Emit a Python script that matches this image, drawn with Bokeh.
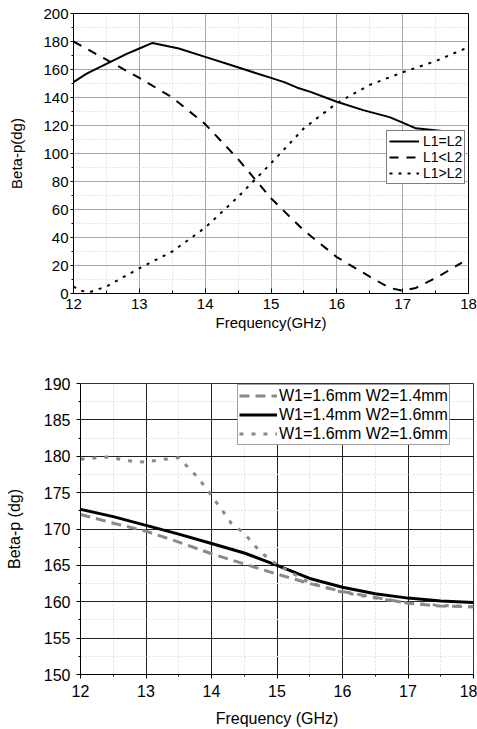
from bokeh.plotting import figure
from bokeh.models import FixedTicker, Legend, LegendItem, Range1d
from bokeh.embed import file_html
from bokeh.resources import INLINE

# ---------------- data: top chart ----------------
freq_eq = [12.0, 12.2, 12.5, 12.8, 13.0, 13.2, 13.6, 14.0, 14.4, 14.8, 15.0, 15.2, 15.4, 15.6, 16.0, 16.4, 16.8, 17.0, 17.2, 17.6, 17.8]
beta_eq = [151, 157, 164, 171, 175, 179, 175, 169, 163, 157, 154, 151, 147, 144, 137, 131, 126, 122, 118, 116, 114]

freq_lt = [12.0, 12.5, 13.0, 13.5, 14.0, 14.5, 15.0, 15.5, 16.0, 16.5, 16.8, 17.0, 17.2, 17.5, 17.9]
beta_lt = [180, 167, 154, 140, 121, 96, 68, 45, 26, 12, 4, 2, 4, 11, 22]

freq_gt = [12.0, 12.1, 12.25, 12.5, 13.0, 13.5, 14.0, 14.5, 15.0, 15.5, 16.0, 16.5, 17.0, 17.5, 18.0]
beta_gt = [5, 2, 1, 5, 18, 30, 47, 69, 93, 118, 136, 149, 158, 166, 176]

top_names = ["L1=L2", "L1<L2", "L1>L2"]
top_xticks = [12, 13, 14, 15, 16, 17, 18]
top_yticks = [0, 20, 40, 60, 80, 100, 120, 140, 160, 180, 200]

# ---------------- data: bottom chart ----------------
freq_w = [12.0, 12.5, 13.0, 13.5, 14.0, 14.5, 15.0, 15.5, 16.0, 16.5, 17.0, 17.5, 18.0]
beta_w1 = [172.0, 170.8, 169.7, 168.2, 166.6, 165.2, 163.8, 162.5, 161.4, 160.6, 159.8, 159.4, 159.3]
beta_w2 = [172.7, 171.7, 170.5, 169.3, 168.0, 166.7, 165.0, 163.2, 162.0, 161.1, 160.5, 160.1, 159.9]

freq_w3 = [12.0, 12.4, 12.8, 13.0, 13.2, 13.5, 13.8, 14.0, 14.2, 14.3, 14.5, 14.75, 15.0, 15.5, 16.0, 16.5, 17.0, 17.5, 18.0]
beta_w3 = [179.6, 179.9, 179.3, 179.2, 179.5, 179.8, 177.0, 174.6, 172.1, 170.8, 169.4, 166.8, 165.1, 162.6, 161.3, 160.5, 159.8, 159.5, 159.3]

bot_names = ["W1=1.6mm W2=1.4mm", "W1=1.4mm W2=1.6mm", "W1=1.6mm W2=1.6mm"]
bot_xticks = [12, 13, 14, 15, 16, 17, 18]
bot_yticks = [150, 155, 160, 165, 170, 175, 180, 185, 190]

FONT = "Liberation Sans"

# ================= top figure =================
p1 = figure(width=477, height=355, output_backend="svg", toolbar_location=None,
            x_range=Range1d(12, 18), y_range=Range1d(0, 200),
            min_border_left=73, min_border_right=9, min_border_top=13, min_border_bottom=62)
p1.background_fill_color = "white"
p1.outline_line_color = "black"
p1.outline_line_width = 1

p1.xaxis.ticker = FixedTicker(ticks=top_xticks, minor_ticks=[x + 0.5 for x in top_xticks[:-1]])
p1.yaxis.ticker = FixedTicker(ticks=top_yticks, minor_ticks=[y + 10 for y in top_yticks[:-1]])
p1.xaxis.axis_label = "Frequency(GHz)"
p1.yaxis.axis_label = "Beta-p(dg)"
for ax in (p1.xaxis[0], p1.yaxis[0]):
    ax.axis_line_color = "black"
    ax.major_tick_line_color = "black"
    ax.minor_tick_line_color = "black"
    ax.major_label_text_font = FONT
    ax.major_label_text_font_size = "15px"
    ax.major_label_text_color = "black"
    ax.axis_label_text_font = FONT
    ax.axis_label_text_font_size = "15px"
    ax.axis_label_text_font_style = "normal"
    ax.axis_label_text_color = "black"
p1.xaxis.major_tick_in = 5
p1.xaxis.major_tick_out = 0
p1.xaxis.minor_tick_in = 3
p1.xaxis.minor_tick_out = 0
p1.xaxis.major_label_standoff = 5
p1.xaxis.axis_label_standoff = 2
p1.yaxis.major_tick_in = 0
p1.yaxis.major_tick_out = 3
p1.yaxis.minor_tick_in = 0
p1.yaxis.minor_tick_out = 2
p1.yaxis.major_label_standoff = 2
p1.yaxis.axis_label_standoff = 15

for g in (p1.xgrid[0], p1.ygrid[0]):
    g.grid_line_color = "#a8a8a8"
    g.grid_line_width = 1
    g.minor_grid_line_color = "#d0d0d0"
    g.minor_grid_line_dash = "1 2"

r1 = p1.line(freq_eq, beta_eq, line_color="black", line_width=2)
r2 = p1.line(freq_lt, beta_lt, line_color="black", line_width=2, line_dash="9 8")
r3 = p1.line(freq_gt, beta_gt, line_color="black", line_width=2, line_dash="3 6")

leg1 = Legend(items=[LegendItem(label=top_names[0], renderers=[r1]),
                     LegendItem(label=top_names[1], renderers=[r2]),
                     LegendItem(label=top_names[2], renderers=[r3])],
              location=(313, 109))
leg1.label_text_font = FONT
leg1.label_text_font_size = "14px"
leg1.label_text_color = "black"
leg1.label_text_line_height = 1.0
leg1.glyph_width = 30
leg1.glyph_height = 14
leg1.label_height = 14
leg1.label_standoff = 4
leg1.spacing = 0
leg1.padding = 2
leg1.margin = 0
leg1.border_line_color = "black"
leg1.border_line_width = 1
leg1.background_fill_alpha = 1
p1.add_layout(leg1, "center")

# ================= bottom figure =================
p2 = figure(width=477, height=374, output_backend="svg", toolbar_location=None,
            x_range=Range1d(12, 18), y_range=Range1d(150, 190),
            min_border_left=80, min_border_right=4, min_border_top=28, min_border_bottom=55)
p2.background_fill_color = "white"
p2.outline_line_color = "#333333"
p2.outline_line_width = 1

p2.xaxis.ticker = FixedTicker(ticks=bot_xticks, minor_ticks=[x + 0.5 for x in bot_xticks[:-1]])
p2.yaxis.ticker = FixedTicker(ticks=bot_yticks, minor_ticks=[y + 2.5 for y in bot_yticks[:-1]])
p2.xaxis.axis_label = "Frequency (GHz)"
p2.yaxis.axis_label = "Beta-p (dg)"
for ax in (p2.xaxis[0], p2.yaxis[0]):
    ax.axis_line_color = "black"
    ax.major_tick_line_color = "black"
    ax.minor_tick_line_color = "black"
    ax.major_label_text_font = FONT
    ax.major_label_text_font_size = "16px"
    ax.major_label_text_color = "black"
    ax.axis_label_text_font = FONT
    ax.axis_label_text_font_size = "16px"
    ax.axis_label_text_font_style = "normal"
    ax.axis_label_text_color = "black"
p2.xaxis.major_tick_in = 0
p2.xaxis.major_tick_out = 4
p2.xaxis.minor_tick_in = 0
p2.xaxis.minor_tick_out = 2
p2.xaxis.major_label_standoff = 6
p2.xaxis.axis_label_standoff = 10
p2.yaxis.major_tick_in = 0
p2.yaxis.major_tick_out = 4
p2.yaxis.minor_tick_in = 0
p2.yaxis.minor_tick_out = 2
p2.yaxis.major_label_standoff = 6
p2.yaxis.axis_label_standoff = 18

for g in (p2.xgrid[0], p2.ygrid[0]):
    g.grid_line_color = "#222222"
    g.grid_line_width = 1
    g.minor_grid_line_color = "#dddddd"
    g.minor_grid_line_dash = "2 2"

q1 = p2.line(freq_w, beta_w1, line_color="#8a8a8a", line_width=3, line_dash="10 6")
q2 = p2.line(freq_w, beta_w2, line_color="black", line_width=3)
q3 = p2.line(freq_w3, beta_w3, line_color="#8a8a8a", line_width=3, line_dash="4 8")

leg2 = Legend(items=[LegendItem(label=bot_names[0], renderers=[q1]),
                     LegendItem(label=bot_names[1], renderers=[q2]),
                     LegendItem(label=bot_names[2], renderers=[q3])],
              location=(157, 229))
leg2.label_text_font = FONT
leg2.label_text_font_size = "16px"
leg2.label_text_color = "black"
leg2.glyph_width = 38
leg2.glyph_height = 19
leg2.label_height = 19
leg2.label_standoff = 2
leg2.spacing = 0
leg2.padding = 1
leg2.margin = 0
leg2.border_line_color = "#444444"
leg2.border_line_width = 1.5
leg2.background_fill_alpha = 1
p2.add_layout(leg2, "center")

open("out.html", "w").write(file_html([p1, p2], INLINE))
